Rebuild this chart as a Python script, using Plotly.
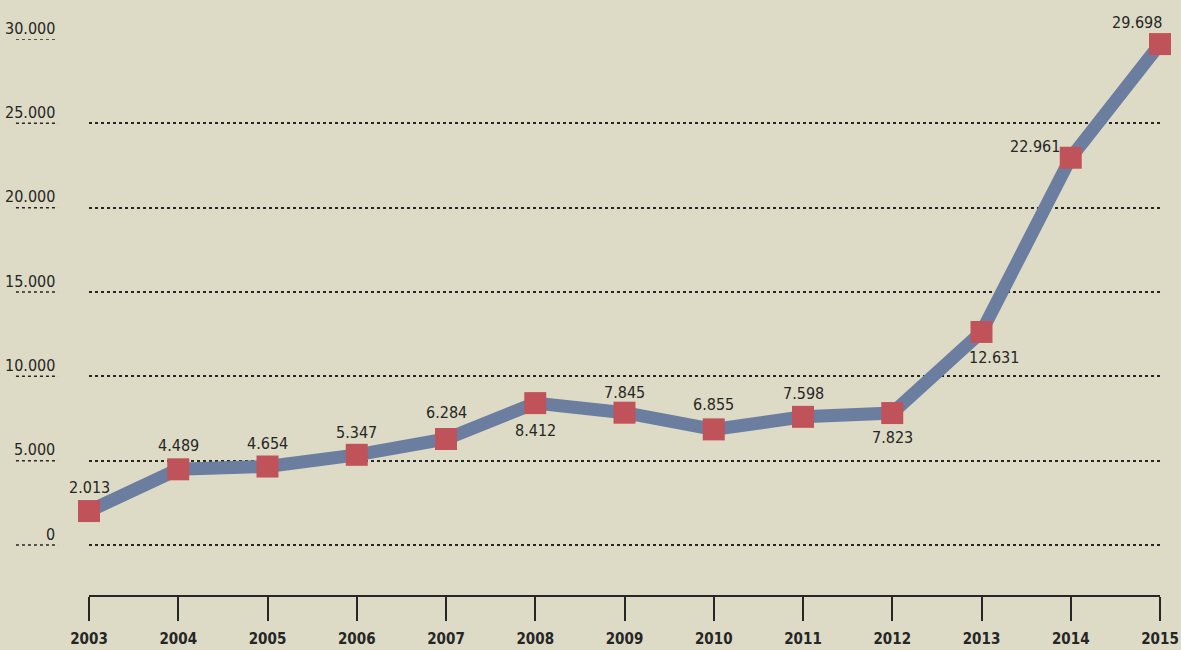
import plotly.graph_objects as go

# data
years = [2003, 2004, 2005, 2006, 2007, 2008, 2009, 2010, 2011, 2012, 2013, 2014, 2015]
values = [2013, 4489, 4654, 5347, 6284, 8412, 7845, 6855, 7598, 7823, 12631, 22961, 29698]
y_ticks = [0, 5000, 10000, 15000, 20000, 25000, 30000]

# label placement (xshift, yshift) in px per point
label_offsets = [
    (0, 24), (0, 24), (0, 23), (0, 22), (0, 27), (0, -27), (0, 20),
    (0, 25), (0, 23), (0, -24), (12, -26), (-36, 11), (-23, 22),
]

BG = "#DDDBC5"
LINE = "#6C7EA0"
MARK = "#C0535A"
INK = "#262626"
FONT = "DejaVu Sans Condensed, Liberation Sans Narrow, sans-serif"


def fmt(v):
    return f"{v:,}".replace(",", ".")


fig = go.Figure()
fig.add_trace(
    go.Scatter(
        x=years,
        y=values,
        mode="lines+markers",
        line=dict(color=LINE, width=13),
        marker=dict(symbol="square", size=22, color=MARK, line=dict(width=0)),
        cliponaxis=False,
        hoverinfo="skip",
        showlegend=False,
    )
)

annotations = []
for yr, v, (dx, dy) in zip(years, values, label_offsets):
    annotations.append(
        dict(
            x=yr, y=v, xref="x", yref="y", text=fmt(v), showarrow=False,
            xshift=dx, yshift=dy, font=dict(family=FONT, size=16, color=INK),
        )
    )

shapes = []
for t in y_ticks:
    annotations.append(
        dict(
            x=-0.0295, y=t, xref="paper", yref="y", text=fmt(t), showarrow=False,
            xanchor="right", yanchor="middle", yshift=11,
            font=dict(family=FONT, size=16, color=INK),
        )
    )
    # short dotted stub under each axis value
    shapes.append(
        dict(
            type="line", xref="paper", yref="y", x0=-0.0682, x1=-0.0289, y0=t, y1=t,
            line=dict(color=INK, width=1.5, dash="dot"),
        )
    )

fig.update_layout(
    width=1181,
    height=650,
    paper_bgcolor=BG,
    plot_bgcolor=BG,
    margin=dict(l=89, r=21, t=39, b=55),
    annotations=annotations,
    shapes=shapes,
    xaxis=dict(
        range=[2003, 2015],
        tickmode="array",
        tickvals=years,
        ticktext=[str(y) for y in years],
        automargin=False,
        showgrid=False,
        zeroline=False,
        showline=True,
        linecolor=INK,
        linewidth=2,
        ticks="outside",
        ticklen=24,
        tickwidth=2,
        tickcolor=INK,
        ticklabelstandoff=5,
        ticklabeloverflow="allow",
        tickfont=dict(family=FONT, size=15, color=INK, weight="bold"),
    ),
    yaxis=dict(
        range=[-2964, 30000],
        tickmode="array",
        tickvals=y_ticks,
        automargin=False,
        showticklabels=False,
        showgrid=True,
        gridcolor=INK,
        gridwidth=1.5,
        griddash="dot",
        zeroline=False,
        showline=False,
        ticks="",
    ),
)

fig.write_html(
    "out.html",
    config={"displayModeBar": False},
    post_script="document.body.style.margin='0';document.body.style.background='%s';" % BG,
)
